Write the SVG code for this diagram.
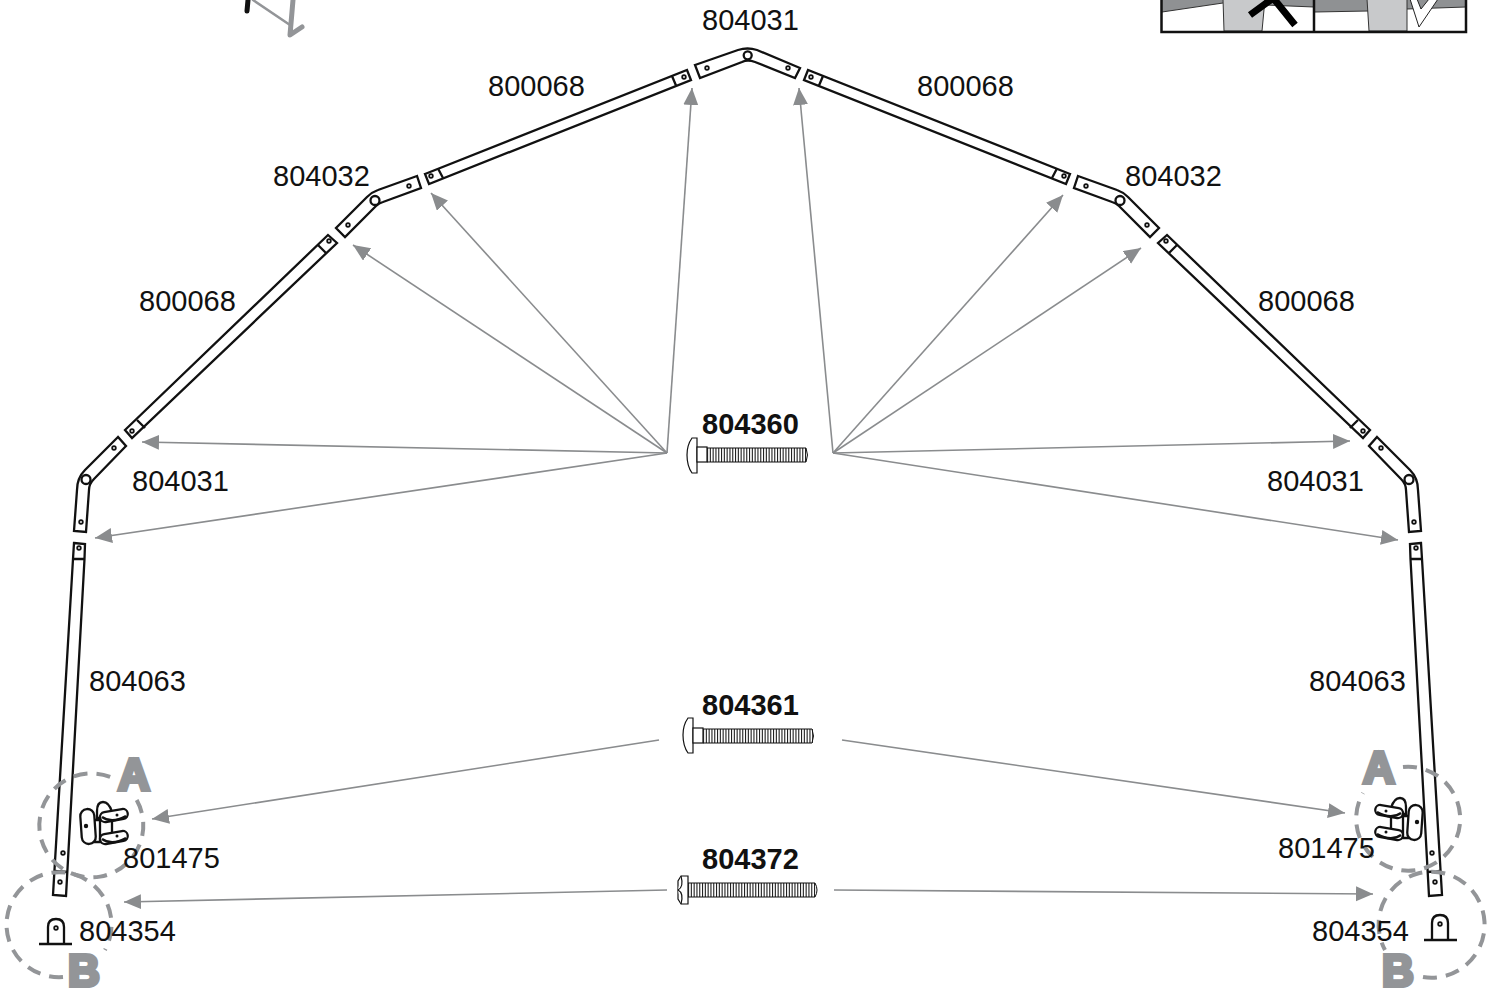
<svg xmlns="http://www.w3.org/2000/svg" width="1495" height="996" viewBox="0 0 1495 996">
<style>
.bg{fill:#fff}
.p{fill:#fff;stroke:#111;stroke-width:2.300;stroke-linejoin:miter}
.l{fill:none;stroke:#111;stroke-width:2.300}
.thin{fill:#fff;stroke:#111;stroke-width:1.200}
.h{fill:#fff;stroke:#111;stroke-width:1.800}
.pin{fill:#fff;stroke:#111;stroke-width:2.300}
.t{font-family:"Liberation Sans",Arial,sans-serif;font-size:29px;fill:#111}
.b{font-weight:bold}
.big{font-family:"Liberation Sans",Arial,sans-serif;font-weight:bold;font-size:44px;fill:#939598;stroke:#939598;stroke-width:4;text-anchor:middle}
.c{fill:none;stroke:#939598;stroke-width:4;stroke-dasharray:14 9}
.a{fill:none;stroke:#8a8c8e;stroke-width:1.600;marker-end:url(#ah)}
.thread{fill:none;stroke:#222;stroke-dasharray:1.100 1.700}
.edge{fill:none;stroke:#111;stroke-width:1}
</style>
<defs>
<marker id="ah" markerUnits="userSpaceOnUse" markerWidth="19" markerHeight="16" refX="17" refY="7.500" orient="auto"><path d="M0 0L17 7.500L0 15z" fill="#8a8c8e"/></marker>
<g id="part-tube-top">
<polygon class="p" points="425,174 687,70 691,80 429,184"/>
<path class="l" d="M438,168.500L443,178M672,76L676,85.500"/>
<circle class="h" cx="431" cy="176" r="1.800"/><circle class="h" cx="684" cy="77" r="1.800"/>
</g>
<g id="part-tube-mid">
<polygon class="p" points="328,235 337,243 132,438 125,430"/>
<path class="l" d="M318,245L326,253M137,420L145,428"/>
<circle class="h" cx="329" cy="241" r="1.800"/><circle class="h" cx="132" cy="431" r="1.800"/>
</g>
<g id="part-elbow-shoulder">
<path class="p" d="M417,176L378,190Q372,192 367,197L336,228L345,237L376,206Q379,203 383,202L421,188Z"/>
<circle class="pin" cx="375" cy="200.500" r="4.500"/>
<circle class="h" cx="409" cy="186" r="1.800"/><circle class="h" cx="348" cy="225" r="1.800"/>
</g>
<g id="part-elbow-eave">
<path class="p" d="M118,437L85,470Q77,478 77,490L74,531L86,532L89,490Q89,484 94,479L126,446Z"/>
<circle class="pin" cx="86" cy="479.500" r="4.500"/>
<circle class="h" cx="114" cy="448" r="1.800"/><circle class="h" cx="81" cy="522" r="1.800"/>
</g>
<g id="part-leg">
<path class="p" d="M74,543L85,544L84.500,559L66,896L53,895L73,559Z"/>
<path class="l" d="M73,559L84.500,559M54.500,871L67.500,872"/>
<circle class="h" cx="79" cy="548" r="1.800"/><circle class="h" cx="63" cy="853" r="1.800"/><circle class="h" cx="60" cy="882" r="1.800"/>
</g>
<g id="part-bracket">
<path class="p" d="M97,818L97,811Q97,802 103,802Q109,802 112,812L112,818Z"/>
<path class="p" d="M94,820L112,820L112,842L94,842Z"/>
<line class="l" x1="100" y1="820" x2="100" y2="842"/>
<rect class="p" x="100" y="810.500" width="28" height="10" rx="5" transform="rotate(-10 114 816)"/>
<path class="l" d="M102,817Q112,824 126,816"/>
<rect class="p" x="100" y="832.500" width="28" height="10" rx="5" transform="rotate(-10 114 838)"/>
<path class="l" d="M102,839Q112,846 126,838"/>
<rect class="p" x="81" y="809" width="14" height="35" rx="7" transform="rotate(-4 88 826)"/>
<circle fill="#111" cx="86" cy="826" r="2.200"/><circle fill="#111" cx="117" cy="815" r="1.500"/><circle fill="#111" cx="117" cy="836" r="1.500"/>
</g>
<g id="part-anchor">
<path class="l" d="M48,944L48,927Q48,919 56,919Q64,919 64,927L64,944"/>
<line class="l" x1="39" y1="944" x2="72" y2="944"/>
<circle class="h" cx="56" cy="928" r="1.800"/>
</g>
</defs>
<rect class="bg" width="1495" height="996"/>

<g id="fragment-top-left" fill="none" stroke-linecap="round">
<path d="M248,0L247,11" stroke="#111" stroke-width="5"/>
<path d="M253,0L290,25" stroke="#939598" stroke-width="2.500"/>
<path d="M293,0L290,35L302,27" stroke="#939598" stroke-width="5" stroke-linejoin="round"/>
</g>

<g id="legend-top-right">
<rect x="1162" y="-4" width="304" height="36" fill="#fff"/>
<polygon points="1162,12 1223,3 1223,-1 1162,-1" fill="#8f9193"/>
<polygon points="1265,5 1314,7 1314,-1 1265,-1" fill="#8f9193"/>
<polygon points="1315,12 1368,11 1368,-1 1315,-1" fill="#8f9193"/>
<polygon points="1407,9 1466,7 1466,-1 1407,-1" fill="#8f9193"/>
<polygon points="1223,-1 1265,-1 1262,31 1224,31" fill="#c8c9cb" stroke="#333" stroke-width="1"/>
<polygon points="1367,-1 1407,-1 1407,31 1369,31" fill="#c8c9cb" stroke="#333" stroke-width="1"/>
<path d="M1162,12L1223,3M1265,5L1314,7M1315,12L1368,11M1407,9L1466,7" fill="none" stroke="#333" stroke-width="1"/>
<path d="M1250,15L1272,-1M1274,-1L1295,25" fill="none" stroke="#000" stroke-width="7"/>
<polygon points="1410,-1 1419,27 1438,-1 1429,-1 1421,9 1417,-1" fill="#fff" stroke="#222" stroke-width="1"/>
<path d="M1161.500,-1L1161.500,32L1466,32L1466,-1M1314,-1L1314,32" fill="none" stroke="#111" stroke-width="2.500"/>
</g>

<g id="connectors">
<line class="a" x1="667" y1="453" x2="142" y2="442"/>
<line class="a" x1="667" y1="453" x2="95" y2="538"/>
<line class="a" x1="667" y1="453" x2="353" y2="245"/>
<line class="a" x1="667" y1="453" x2="431" y2="193"/>
<line class="a" x1="667" y1="453" x2="692" y2="88"/>
<line class="a" x1="833" y1="453" x2="1350" y2="441"/>
<line class="a" x1="833" y1="453" x2="1398" y2="540"/>
<line class="a" x1="833" y1="453" x2="1141" y2="248"/>
<line class="a" x1="833" y1="453" x2="1063" y2="195"/>
<line class="a" x1="833" y1="453" x2="799" y2="88"/>
<line class="a" x1="659" y1="740" x2="152" y2="819"/>
<line class="a" x1="842" y1="740" x2="1345" y2="813"/>
<line class="a" x1="667" y1="890" x2="124" y2="902"/>
<line class="a" x1="834" y1="890" x2="1373" y2="894"/>
</g>

<g id="fitting-ridge">
<path class="p" d="M695,65L738,50Q747.500,47 757,50L800,68L795,78L755,62Q747.500,59 742,62L700,78Z"/>
<circle class="pin" cx="747.700" cy="55.300" r="4"/>
<circle class="h" cx="707" cy="68" r="1.800"/><circle class="h" cx="788" cy="68" r="1.800"/>
</g>
<g id="tube-top-left"><use href="#part-tube-top"/></g>
<g id="tube-top-right" transform="matrix(-1 0 0 1 1495 0)"><use href="#part-tube-top"/></g>
<g id="fitting-shoulder-left"><use href="#part-elbow-shoulder"/></g>
<g id="fitting-shoulder-right" transform="matrix(-1 0 0 1 1495 0)"><use href="#part-elbow-shoulder"/></g>
<g id="tube-mid-left"><use href="#part-tube-mid"/></g>
<g id="tube-mid-right" transform="matrix(-1 0 0 1 1495 0)"><use href="#part-tube-mid"/></g>
<g id="fitting-eave-left"><use href="#part-elbow-eave"/></g>
<g id="fitting-eave-right" transform="matrix(-1 0 0 1 1495 0)"><use href="#part-elbow-eave"/></g>
<g id="leg-left"><use href="#part-leg"/></g>
<g id="leg-right" transform="matrix(-1 0 0 1 1495 0)"><use href="#part-leg"/></g>

<g id="callout-a-left">
<path class="c" d="M136.700,800A52,52 0 1 1 116.700,780"/>
</g>
<g id="callout-b-left">
<path class="c" d="M63,977A52.500,52.500 0 1 1 105,950"/>
</g>
<g id="callout-a-right">
<path class="c" d="M1403,767A52,52 0 1 1 1363,793"/>
</g>
<g id="callout-b-right">
<path class="c" d="M1423,977A53,53 0 1 0 1385,950"/>
</g>

<g id="bracket-left"><use href="#part-bracket"/></g>
<g id="bracket-right" transform="translate(1503 -4) scale(-1 1)"><use href="#part-bracket"/></g>
<g id="anchor-left"><use href="#part-anchor"/></g>
<g id="anchor-right" transform="translate(1496 -4) scale(-1 1)"><use href="#part-anchor"/></g>

<g id="bolt-804360">
<path class="thin" d="M697,438L692,438Q687,445 687,455Q687,466 692,473L697,473Z"/>
<rect class="thin" x="697" y="447" width="10" height="15"/>
<line class="thread" x1="707" y1="455" x2="807" y2="455" stroke-width="14"/>
<path class="edge" d="M707,448L806,448Q809,455 806,462L707,462"/>
<text class="t b" x="702" y="434">804360</text>
</g>
<g id="bolt-804361">
<path class="thin" d="M693,718L688,718Q683,725 683,735Q683,746 688,753L693,753Z"/>
<rect class="thin" x="693" y="728" width="10" height="15"/>
<line class="thread" x1="703" y1="736" x2="813" y2="736" stroke-width="14"/>
<path class="edge" d="M703,729L812,729Q815,736 812,743L703,743"/>
<text class="t b" x="702" y="715">804361</text>
</g>
<g id="bolt-804372">
<path class="thin" d="M688,876L681,876L678,881L678,899L681,904L688,904Z"/>
<path class="thin" fill="none" d="M678,890Q684,887 681,876M678,890Q684,893 681,904"/>
<line class="thread" x1="688" y1="890" x2="816" y2="890" stroke-width="14"/>
<path class="edge" d="M688,883L815,883Q819,890 815,897L688,897"/>
<text class="t b" x="702" y="869">804372</text>
</g>

<g id="labels">
<text class="t" x="702" y="30">804031</text>
<text class="t" x="488" y="96">800068</text>
<text class="t" x="917" y="96">800068</text>
<text class="t" x="273" y="186">804032</text>
<text class="t" x="1125" y="186">804032</text>
<text class="t" x="139" y="311">800068</text>
<text class="t" x="1258" y="311">800068</text>
<text class="t" x="132" y="491">804031</text>
<text class="t" x="1267" y="491">804031</text>
<text class="t" x="89" y="691">804063</text>
<text class="t" x="1309" y="691">804063</text>
<text class="t" x="123" y="868">801475</text>
<text class="t" x="1278" y="858">801475</text>
<text class="t" x="79" y="941">804354</text>
<text class="t" x="1312" y="941">804354</text>
<text class="big" x="134" y="790">A</text>
<text class="big" x="84" y="986">B</text>
<text class="big" x="1379" y="783">A</text>
<text class="big" x="1398" y="986">B</text>
</g>
</svg>
